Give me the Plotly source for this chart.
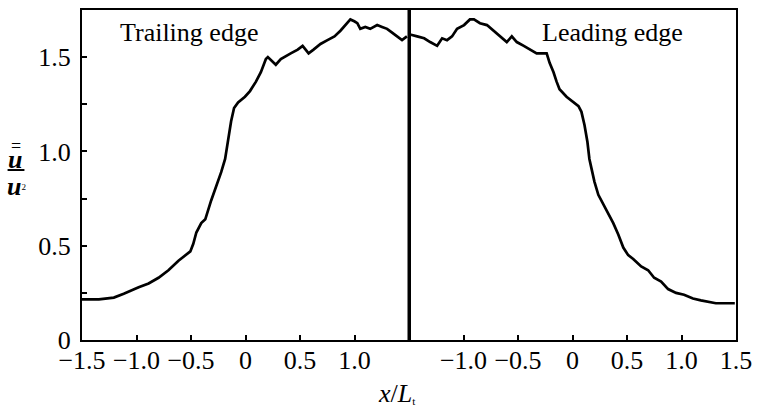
import plotly.graph_objects as go

# Trailing edge (left panel)
trail_x = [-1.5, -1.345, -1.208, -1.117, -0.98, -0.889, -0.798, -0.707, -0.615, -0.552,
           -0.506, -0.479, -0.451, -0.406, -0.369, -0.315, -0.269, -0.223, -0.187, -0.160,
           -0.132, -0.105, -0.068, -0.005, 0.041, 0.096, 0.141, 0.187, 0.205, 0.278,
           0.324, 0.415, 0.479, 0.524, 0.552, 0.579, 0.624, 0.688, 0.752, 0.816,
           0.871, 0.916, 0.962, 0.998, 1.026, 1.053, 1.099, 1.144, 1.208, 1.253,
           1.299, 1.345, 1.390, 1.436, 1.481]
trail_y = [0.215, 0.215, 0.225, 0.245, 0.28, 0.30, 0.33, 0.37, 0.42, 0.45,
           0.47, 0.51, 0.57, 0.62, 0.64, 0.74, 0.81, 0.89, 0.96, 1.07,
           1.16, 1.23, 1.26, 1.29, 1.32, 1.37, 1.42, 1.49, 1.50, 1.46,
           1.49, 1.52, 1.54, 1.56, 1.54, 1.52, 1.54, 1.57, 1.59, 1.61,
           1.64, 1.67, 1.70, 1.69, 1.68, 1.65, 1.66, 1.65, 1.67, 1.66,
           1.65, 1.63, 1.61, 1.59, 1.61]

# Leading edge (right panel)
lead_x = [-1.5, -1.49, -1.425, -1.361, -1.306, -1.242, -1.196, -1.151, -1.105, -1.059,
          -0.995, -0.941, -0.904, -0.849, -0.785, -0.721, -0.667, -0.603, -0.557, -0.511,
          -0.447, -0.393, -0.329, -0.265, -0.237, -0.210, -0.174, -0.146, -0.119, -0.055,
          0.009, 0.055, 0.082, 0.110, 0.137, 0.155, 0.174, 0.201, 0.237, 0.283,
          0.329, 0.374, 0.420, 0.466, 0.511, 0.557, 0.630, 0.694, 0.749, 0.813,
          0.877, 0.950, 1.023, 1.105, 1.178, 1.251, 1.315, 1.434, 1.489]
lead_y = [1.62, 1.62, 1.61, 1.60, 1.58, 1.56, 1.60, 1.59, 1.61, 1.65,
          1.67, 1.70, 1.70, 1.68, 1.67, 1.64, 1.61, 1.58, 1.61, 1.58,
          1.56, 1.54, 1.52, 1.52, 1.52, 1.47, 1.42, 1.37, 1.33, 1.29,
          1.26, 1.24, 1.21, 1.14, 1.05, 0.96, 0.91, 0.84, 0.77, 0.72,
          0.67, 0.62, 0.56, 0.49, 0.45, 0.43, 0.39, 0.37, 0.33, 0.31,
          0.27, 0.25, 0.24, 0.22, 0.21, 0.20, 0.195, 0.195, 0.195]

x_tickvals = [-1.5, -1.0, -0.5, 0, 0.5, 1.0, 1.5]
left_ticktext = ["\u22121.5", "\u22121.0", "\u22120.5", "0", "0.5", "1.0", ""]
right_ticktext = ["", "\u22121.0", "\u22120.5", "0", "0.5", "1.0", "1.5"]
y_tickvals = [0, 0.25, 0.5, 0.75, 1.0, 1.25, 1.5]
y_ticktext = ["0", "", "0.5", "", "1.0", "", "1.5"]

FONT = "Liberation Serif"
W, H = 760, 409
L, R, T, B = 82, 19, 8, 69

fig = go.Figure()
fig.add_trace(go.Scatter(x=trail_x, y=trail_y, mode="lines",
                         line=dict(color="black", width=2.7), xaxis="x", yaxis="y"))
fig.add_trace(go.Scatter(x=lead_x, y=lead_y, mode="lines",
                         line=dict(color="black", width=2.7), xaxis="x2", yaxis="y2"))

tickfont = dict(family=FONT, size=26, color="black")
base = dict(showgrid=False, zeroline=False, showline=True, linecolor="black",
            linewidth=2, tickcolor="black", ticklen=5, tickwidth=2, tickfont=tickfont)

fig.update_layout(
    width=W, height=H,
    margin=dict(l=L, r=R, t=T, b=B),
    paper_bgcolor="white", plot_bgcolor="white",
    showlegend=False,
    xaxis=dict(domain=[0, 0.5], range=[-1.5, 1.5], tickvals=x_tickvals,
               ticktext=left_ticktext, anchor="y", mirror=True, ticks="inside",
               ticklabelstandoff=-4, **base),
    xaxis2=dict(domain=[0.5, 1], range=[-1.5, 1.5], tickvals=x_tickvals,
                ticktext=right_ticktext, anchor="y2", mirror=True, ticks="inside",
                ticklabelstandoff=-4, **base),
    yaxis=dict(domain=[0, 1], range=[0, 1.75], tickvals=y_tickvals,
               ticktext=y_ticktext, anchor="x", mirror=True, ticks="inside",
               ticklabelstandoff=4, **base),
    yaxis2=dict(domain=[0, 1], range=[0, 1.75], tickvals=y_tickvals,
                showticklabels=False, ticks="", anchor="x2", side="right",
                mirror=False, **base),
)

pw, ph = W - L - R, H - T - B
def px(xp):
    return (xp - L) / pw
def py(yp):
    return (H - B - yp) / ph

# thicker divider between the two panels
fig.add_shape(type="line", xref="paper", yref="paper", x0=0.5, x1=0.5, y0=0, y1=1,
              line=dict(color="black", width=3))

ann_font = dict(family=FONT, size=26, color="black")
fig.add_annotation(text="Trailing edge", x=px(118), y=py(31), xref="paper", yref="paper",
                   xanchor="left", yanchor="middle", showarrow=False, font=ann_font)
fig.add_annotation(text="Leading edge", x=px(543), y=py(31), xref="paper", yref="paper",
                   xanchor="left", yanchor="middle", showarrow=False, font=ann_font)
fig.add_annotation(text="<i>x</i>/<i>L</i><span style='font-size:16px'><sub>t</sub></span>",
                   x=px(399), y=py(394),
                   xref="paper", yref="paper", xanchor="center", yanchor="middle",
                   showarrow=False, font=ann_font)
# y-axis label: double-barred u over u squared
fig.add_annotation(text="<b><i>u</i></b>", x=px(14), y=py(158), xref="paper", yref="paper",
                   xanchor="center", yanchor="middle", showarrow=False, font=ann_font)
fig.add_annotation(text="=", x=px(15), y=py(145), xref="paper", yref="paper",
                   xanchor="center", yanchor="middle", showarrow=False,
                   font=dict(family=FONT, size=18, color="black"))
fig.add_annotation(text="<b><i>u</i></b><span style='font-size:13px'><sup>2</sup></span>",
                   x=px(16), y=py(186), xref="paper",
                   yref="paper", xanchor="center", yanchor="middle", showarrow=False,
                   font=ann_font)
fig.add_shape(type="line", xref="paper", yref="paper", x0=px(7), x1=px(24),
              y0=py(169), y1=py(169), line=dict(color="black", width=2))

fig.write_html("out.html")
